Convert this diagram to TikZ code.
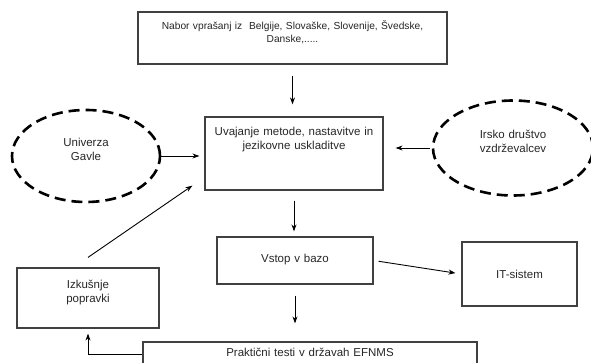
\documentclass[tikz,border=0pt]{standalone}
\usepackage{fontspec}
\setmainfont{Liberation Sans}
\usetikzlibrary{shapes.geometric,arrows.meta}

\begin{document}
\begin{tikzpicture}[x=1pt,y=-1pt]

\tikzstyle{box}=[rectangle, draw=black!75, line width=1.2pt, inner sep=0pt, align=center, text=black!85, font=\fontsize{11.5}{14}\selectfont]
\tikzstyle{cloud}=[ellipse, draw=black, line width=2.6pt, dash pattern=on 11pt off 6pt, inner sep=0pt, align=center, text width=80pt, text height=10pt, text depth=28pt, text=black!85, font=\fontsize{11.5}{13.5}\selectfont]
\tikzstyle{arrow}=[-{Stealth[length=7pt,width=5pt]}, line width=0.9pt]

\useasboundingbox (0,0) rectangle (591,363);

\node (nabor) [box, text width=309pt, text height=18pt, text depth=34pt, font=\fontsize{10.2}{13}\selectfont] at (292.5,38)
      {Nabor vpra\v{s}anj iz\ \ Belgije, Slova\v{s}ke, Slovenije, \v{S}vedske,\\ Danske,.....};
\node (uvaj) [box, text width=178pt, text height=19pt, text depth=54pt] at (294,153.5)
      {Uvajanje metode, nastavitve in\\ jezikovne uskladitve};
\node (univ) [cloud, minimum width=148pt, minimum height=92pt] at (86,156) {Univerza\\ Gavle};
\node (irsko) [cloud, minimum width=160pt, minimum height=95pt] at (513,148) {Irsko dru\v{s}tvo\\ vzdr\v{z}evalcev};
\node (vstop) [box, text width=156pt, text height=25pt, text depth=22pt] at (295,260.5) {Vstop v bazo};
\node (it) [box, text width=115pt, text height=36pt, text depth=28pt] at (519.5,274) {IT-sistem};
\node (izk) [box, text width=142pt, text height=20pt, text depth=40pt] at (88,298) {Izku\v{s}nje\\ popravki};
\node (prak) [box, text width=334pt, text height=14pt, text depth=26pt] at (310,362)
      {Prakti\v{c}ni testi v dr\v{z}avah EFNMS};

\draw[arrow, shorten <=11pt, shorten >=12pt] (nabor.south) -- (nabor.south |- uvaj.north);
\draw[arrow, shorten >=5pt] (univ.east) -- (univ.east -| uvaj.west);
\draw[arrow, shorten <=2pt, shorten >=12pt] (irsko.west) -- (irsko.west -| uvaj.east);
\draw[arrow, shorten <=10pt, shorten >=5pt] (uvaj.south) -- (uvaj.south |- vstop.north);
\draw[arrow, shorten <=5pt, shorten >=6pt] (vstop.east) -- (it.west);
\draw[arrow, shorten <=11pt, shorten >=18pt] (vstop.south) -- (vstop.south |- prak.north);
\draw[arrow] ([yshift=10pt]izk.north) -- ([xshift=-12pt,yshift=5pt]uvaj.south west);
\draw[arrow, shorten >=5pt] ([yshift=-13pt]prak.north west) -| (izk.south);
\end{tikzpicture}
\end{document}
